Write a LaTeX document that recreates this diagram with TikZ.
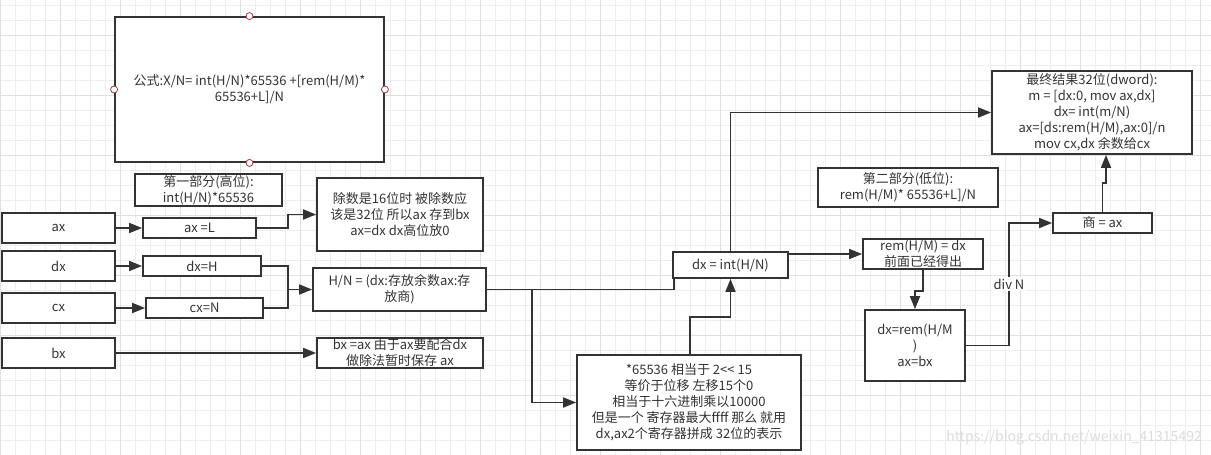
\documentclass[tikz,border=0pt]{standalone}
\usepackage{fontspec}
\setmainfont{Noto Sans CJK SC}
\usetikzlibrary{arrows.meta}
\definecolor{ink}{HTML}{333333}
\definecolor{gridminor}{HTML}{EEEEEE}
\definecolor{gridmajor}{HTML}{E0E0E0}
\definecolor{handle}{HTML}{A33A3A}
\definecolor{wm}{HTML}{DCDCDC}
\begin{document}
\begin{tikzpicture}[x=1pt,y=-1pt,
  box/.style={draw=ink, line width=1.8pt, fill=white, text=ink, align=center, inner sep=1pt, font=\fontsize{13}{16}\selectfont},
  arr/.style={draw=ink, line width=1.8pt, -{Triangle[length=13pt,width=10pt]}},
  conn/.style={draw=ink, line width=1.8pt},
  lbl/.style={fill=white, text=ink, inner sep=1.5pt, font=\fontsize{13}{16}\selectfont}]
\useasboundingbox (0,0) rectangle (1211,455);
\fill[white] (0,0) rectangle (1211,455);
% grid
\foreach \i in {0,15,...,1215} {\draw[gridminor, line width=0.7pt] (\i,0) -- (\i,455);}
\foreach \j in {5,20,...,455} {\draw[gridminor, line width=0.7pt] (0,\j) -- (1211,\j);}
\foreach \i in {0,60,...,1200} {\draw[gridmajor, line width=0.9pt] (\i,0) -- (\i,455);}
\foreach \j in {35,95,...,455} {\draw[gridmajor, line width=0.9pt] (0,\j) -- (1211,\j);}

% nodes
\node[box, minimum width=269pt, minimum height=145pt] (formula) at (249.5,89.5) {公式:X/N= int(H/N)*65536 +[rem(H/M)*\\65536+L]/N};
\node[box, minimum width=147pt, minimum height=30pt] (part1) at (208.5,190) {第一部分(高位):\\int(H/N)*65536};
\node[box, minimum width=113pt, minimum height=30pt] (ax) at (58.5,228) {ax};
\node[box, minimum width=113pt, minimum height=30pt] (dx) at (58.5,266) {dx};
\node[box, minimum width=113pt, minimum height=30pt] (cx) at (58.5,308) {cx};
\node[box, minimum width=113pt, minimum height=30pt] (bx) at (58.5,353) {bx};
\node[box, minimum width=113pt, minimum height=20pt] (axL) at (199.5,228) {ax =L};
\node[box, minimum width=118pt, minimum height=20pt] (dxH) at (202,266) {dx=H};
\node[box, minimum width=117pt, minimum height=20pt] (cxN) at (204.5,308) {cx=N};
\node[box, minimum width=166pt, minimum height=73pt] (chushu) at (400,214.5) {除数是16位时 被除数应\\该是32位 所以ax 存到bx\\ax=dx dx高位放0};
\node[box, minimum width=173pt, minimum height=43pt] (HN) at (399.5,289.5) {H/N = (dx:存放余数ax:存\\放商)};
\node[box, minimum width=166pt, minimum height=30pt] (bxax) at (400,353) {bx =ax 由于ax要配合dx\\做除法暂时保存 ax};
\node[box, minimum width=115pt, minimum height=26pt] (dxint) at (730.5,265) {dx = int(H/N)};
\node[box, minimum width=224pt, minimum height=95pt] (mul) at (689,402.5) {*65536 相当于 2<{}< 15\\等价于位移 左移15个0\\相当于十六进制乘以10000\\但是一个 寄存器最大ffff 那么 就用\\dx,ax2个寄存器拼成 32位的表示};
\node[box, minimum width=200pt, minimum height=83pt] (final) at (1092,112.5) {最终结果32位(dword):\\m = [dx:0, mov ax,dx]\\dx= int(m/N)\\ax=[ds:rem(H/M),ax:0]/n\\mov cx,dx 余数给cx};
\node[box, minimum width=180pt, minimum height=39pt] (part2) at (908,187.5) {第二部分(低位):\\rem(H/M)* 65536+L]/N};
\node[box, minimum width=120pt, minimum height=28pt] (rem) at (923,254) {rem(H/M) = dx\\前面已经得出};
\node[box, minimum width=100pt, minimum height=71pt] (dxrem) at (915,345.5) {dx=rem(H/M\\)\\ax=bx};
\node[box, minimum width=99pt, minimum height=20pt] (shang) at (1102.5,223) {商 = ax};

% handles on formula box
\foreach \a in {north,south,east,west} {\draw[handle, fill=white, line width=0.8pt] (formula.\a) circle (3.5pt);}

% connectors
\draw[arr] (ax.east) -- (axL.west);
\draw[arr] (dx.east) -- (dxH.west);
\draw[arr] (cx.east) -- (cxN.west);
\draw[arr] (bx.east) -- (bxax.west);
\draw[arr] (axL.east) -- ++(31,0) |- (chushu.west);
\coordinate (j1) at (288,289.5);
\draw[conn] (dxH.east) -| (j1);
\draw[conn] (cxN.east) -| (j1);
\draw[arr] (j1) -- (HN.west);
\coordinate (j2) at (532,289.5);
\draw[conn] (HN.east) -| ([xshift=2pt]dxint.south west);
\draw[arr] (j2) |- (mul.west);
\coordinate (j3) at (690,317);
\draw[arr] (mul.north -| j3) -- (j3) -| (dxint.south);
\draw[arr] (dxint.north) |- (final.west);
\draw[arr] (dxint.east |- rem.west) -- (rem.west);
\draw[arr] (rem.south) -- ++(0,21) -| (dxrem.north);
\coordinate (j4) at (1009,345.5);
\coordinate (j5) at (1009,223);
\draw[arr] (dxrem.east) -- (j4) -- node[lbl] {div N} (j5) -- (shang.west);
\coordinate (j6) at (1102.5,183);
\coordinate (j7) at (1106,183);
\draw[arr] (shang.north) -- (j6) -- (j7) -- (j7 |- final.south);

% watermark
\node[anchor=east, text=wm, font=\fontsize{14}{16}\selectfont, inner sep=0pt] (wmark) at (1202,438) {https://blog.csdn.net/weixin\_41315492};
\end{tikzpicture}
\end{document}
